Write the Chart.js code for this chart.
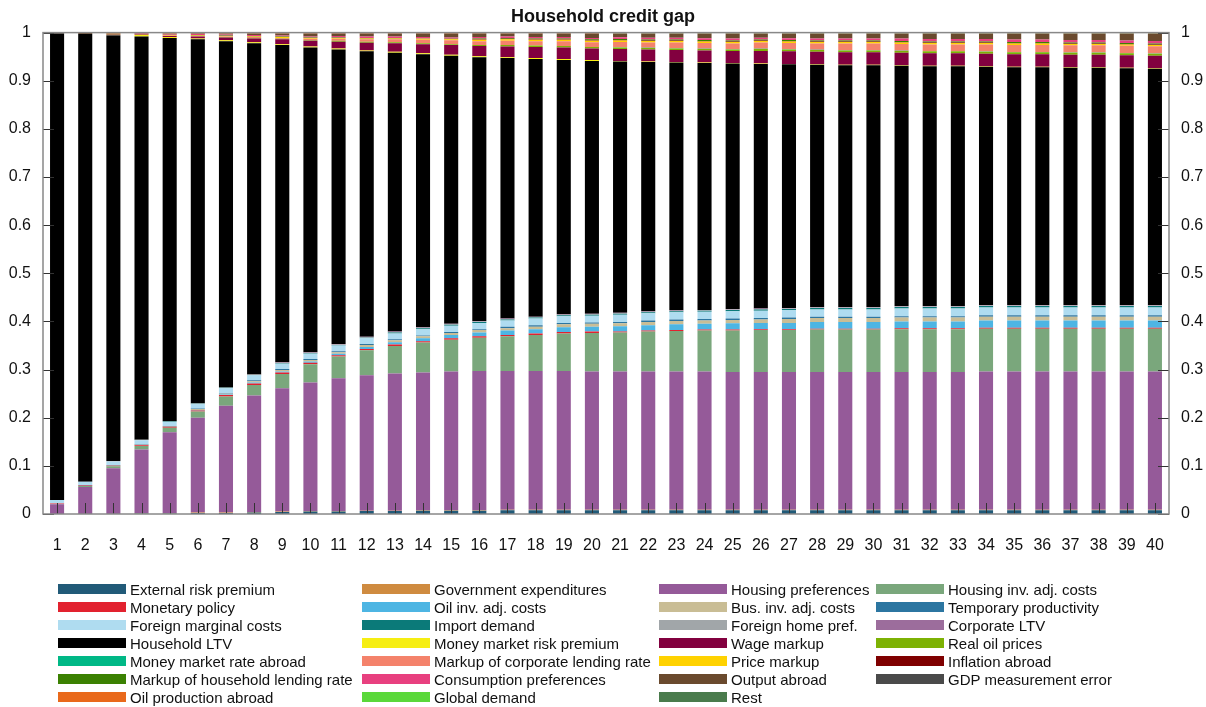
<!DOCTYPE html>
<html>
<head>
<meta charset="utf-8">
<script src="https://cdn.jsdelivr.net/npm/chart.js@4/dist/chart.umd.min.js"></script>
<style>
  html, body { margin: 0; padding: 0; background: #fff; }
  #wrap { position: relative; width: 1206px; height: 707px; }
  #legend { position: absolute; left: 0; top: 0; width: 1206px; height: 707px; pointer-events: none;
            font-family: "Liberation Sans", Arial, sans-serif; font-size: 15px; color: #111; }
  .item { position: absolute; display: flex; align-items: center; height: 18px; white-space: nowrap; }
  .sw { width: 68px; height: 10px; margin-right: 4px; }
</style>
</head>
<body>
<div id="wrap">
  <canvas id="chart" width="1206" height="707"></canvas>
  <div id="legend"></div>
</div>
<script>
const categories = ['1','2','3','4','5','6','7','8','9','10','11','12','13','14','15','16','17','18','19','20',
  '21','22','23','24','25','26','27','28','29','30','31','32','33','34','35','36','37','38','39','40'];

// shares of the decomposition, one array per shock, bottom of the stack first
const externalRisk = [0, 0, 0, 0.001, 0.001, 0.002, 0.002, 0.003, 0.004, 0.005,
  0.005, 0.006, 0.006, 0.007, 0.007, 0.007, 0.008, 0.008, 0.008, 0.008,
  0.008, 0.008, 0.008, 0.008, 0.008, 0.008, 0.008, 0.008, 0.008, 0.008,
  0.008, 0.008, 0.008, 0.008, 0.008, 0.008, 0.008, 0.008, 0.008, 0.008];
const govExp = [0, 0, 0, 0.001, 0.001, 0.001, 0.001, 0.001, 0.001, 0.001,
  0.001, 0.001, 0.001, 0.001, 0.001, 0.001, 0.001, 0.001, 0.001, 0.001,
  0.001, 0.001, 0.001, 0.001, 0.001, 0.001, 0.001, 0.001, 0.001, 0.001,
  0.001, 0.001, 0.001, 0.001, 0.001, 0.001, 0.001, 0.001, 0.001, 0.001];
const housingPref = [0.020, 0.056, 0.095, 0.132, 0.168, 0.197, 0.222, 0.242, 0.256, 0.267,
  0.276, 0.281, 0.285, 0.286, 0.288, 0.289, 0.288, 0.288, 0.288, 0.287,
  0.287, 0.287, 0.287, 0.287, 0.286, 0.286, 0.286, 0.286, 0.286, 0.286,
  0.286, 0.286, 0.286, 0.287, 0.287, 0.287, 0.287, 0.287, 0.287, 0.287];
const housingInv = [0.001, 0.002, 0.004, 0.007, 0.009, 0.013, 0.019, 0.022, 0.030, 0.038,
  0.045, 0.052, 0.057, 0.062, 0.066, 0.069, 0.072, 0.075, 0.078, 0.080,
  0.081, 0.083, 0.084, 0.085, 0.086, 0.087, 0.087, 0.088, 0.088, 0.088,
  0.089, 0.089, 0.089, 0.089, 0.089, 0.089, 0.089, 0.089, 0.089, 0.089];
const monetaryPolicy = [0.001, 0.001, 0.001, 0.002, 0.002, 0.002, 0.003, 0.003, 0.003, 0.003,
  0.003, 0.003, 0.003, 0.003, 0.003, 0.003, 0.003, 0.003, 0.003, 0.003,
  0.002, 0.002, 0.002, 0.002, 0.002, 0.002, 0.002, 0.002, 0.002, 0.002,
  0.002, 0.002, 0.002, 0.002, 0.002, 0.002, 0.002, 0.002, 0.002, 0.002];
const oilInv = [0, 0, 0, 0, 0, 0.001, 0.001, 0.002, 0.002, 0.003,
  0.003, 0.004, 0.005, 0.006, 0.007, 0.008, 0.009, 0.009, 0.010, 0.010,
  0.011, 0.011, 0.012, 0.012, 0.013, 0.013, 0.013, 0.014, 0.014, 0.014,
  0.014, 0.014, 0.014, 0.015, 0.015, 0.015, 0.015, 0.015, 0.015, 0.015];
const busInv = [0, 0, 0.001, 0.001, 0.001, 0.002, 0.002, 0.003, 0.003, 0.003,
  0.003, 0.004, 0.004, 0.004, 0.004, 0.005, 0.005, 0.005, 0.006, 0.006,
  0.006, 0.007, 0.007, 0.007, 0.007, 0.007, 0.008, 0.008, 0.008, 0.008,
  0.008, 0.008, 0.008, 0.008, 0.008, 0.008, 0.008, 0.008, 0.008, 0.008];
const tempProd = [0, 0.001, 0.001, 0.001, 0.001, 0.001, 0.001, 0.002, 0.002, 0.002,
  0.002, 0.002, 0.002, 0.002, 0.002, 0.002, 0.003, 0.003, 0.003, 0.003,
  0.003, 0.003, 0.003, 0.003, 0.003, 0.003, 0.003, 0.003, 0.003, 0.003,
  0.003, 0.003, 0.003, 0.003, 0.003, 0.003, 0.003, 0.003, 0.003, 0.003];
const foreignMc = [0.007, 0.007, 0.007, 0.008, 0.008, 0.009, 0.010, 0.010, 0.011, 0.011,
  0.012, 0.012, 0.012, 0.013, 0.013, 0.013, 0.013, 0.014, 0.014, 0.014,
  0.015, 0.015, 0.015, 0.015, 0.015, 0.015, 0.015, 0.015, 0.015, 0.015,
  0.016, 0.016, 0.016, 0.016, 0.016, 0.016, 0.016, 0.016, 0.016, 0.016];
const importDemand = [0, 0, 0, 0, 0.001, 0.001, 0.001, 0.001, 0.001, 0.001,
  0.001, 0.001, 0.002, 0.002, 0.002, 0.002, 0.002, 0.002, 0.002, 0.002,
  0.002, 0.002, 0.002, 0.002, 0.003, 0.003, 0.003, 0.003, 0.003, 0.003,
  0.003, 0.003, 0.003, 0.003, 0.003, 0.003, 0.003, 0.003, 0.003, 0.003];
const foreignHome = [0, 0, 0.001, 0.001, 0.001, 0.001, 0.001, 0.001, 0.001, 0.001,
  0.001, 0.001, 0.001, 0.001, 0.001, 0.001, 0.001, 0.001, 0.001, 0.001,
  0.001, 0.001, 0.001, 0.001, 0.001, 0.001, 0.001, 0.001, 0.001, 0.001,
  0.001, 0.001, 0.001, 0.001, 0.001, 0.001, 0.001, 0.001, 0.001, 0.001];
const corpLtv = [0, 0, 0, 0, 0, 0, 0, 0, 0.001, 0.001,
  0.001, 0.001, 0.001, 0.001, 0.001, 0.001, 0.001, 0.001, 0.001, 0.001,
  0.001, 0.001, 0.001, 0.001, 0.001, 0.001, 0.001, 0.001, 0.001, 0.001,
  0.001, 0.001, 0.001, 0.001, 0.001, 0.001, 0.001, 0.001, 0.001, 0.001];
const householdLtv = [0.969, 0.930, 0.884, 0.838, 0.796, 0.756, 0.719, 0.688, 0.659, 0.633,
  0.612, 0.593, 0.579, 0.567, 0.557, 0.548, 0.541, 0.535, 0.528, 0.525,
  0.522, 0.518, 0.515, 0.513, 0.510, 0.508, 0.506, 0.503, 0.502, 0.502,
  0.499, 0.498, 0.498, 0.495, 0.494, 0.494, 0.493, 0.493, 0.492, 0.491];
const mmRiskPrem = [0, 0, 0, 0.003, 0.002, 0.002, 0.002, 0.002, 0.002, 0.002,
  0.002, 0.002, 0.002, 0.002, 0.002, 0.002, 0.002, 0.002, 0.002, 0.002,
  0.001, 0.001, 0.001, 0.001, 0.001, 0.001, 0.001, 0.001, 0.001, 0.001,
  0.001, 0.001, 0.001, 0.001, 0.001, 0.001, 0.001, 0.001, 0.001, 0.001];
const wageMarkup = [0, 0, 0, 0.001, 0.002, 0.004, 0.006, 0.008, 0.010, 0.012,
  0.014, 0.016, 0.018, 0.019, 0.020, 0.021, 0.022, 0.023, 0.024, 0.024,
  0.025, 0.025, 0.025, 0.025, 0.025, 0.026, 0.026, 0.026, 0.026, 0.026,
  0.026, 0.026, 0.026, 0.026, 0.026, 0.026, 0.026, 0.026, 0.026, 0.026];
const realOil = [0, 0, 0, 0, 0, 0, 0.001, 0.001, 0.001, 0.001,
  0.002, 0.002, 0.002, 0.002, 0.002, 0.002, 0.003, 0.003, 0.003, 0.003,
  0.003, 0.003, 0.003, 0.003, 0.003, 0.004, 0.004, 0.004, 0.004, 0.004,
  0.004, 0.004, 0.004, 0.004, 0.004, 0.004, 0.004, 0.004, 0.004, 0.004];
const mmRateAbroad = [0, 0, 0, 0, 0, 0, 0, 0, 0, 0,
  0, 0, 0, 0, 0, 0, 0, 0, 0, 0,
  0.0005, 0.0005, 0.0005, 0.0005, 0.0005, 0.0005, 0.0005, 0.0005, 0.0005, 0.0005,
  0.0005, 0.0005, 0.0005, 0.0005, 0.0005, 0.0005, 0.0005, 0.0005, 0.0005, 0.0005];
const corpMarkup = [0, 0, 0, 0, 0, 0.001, 0.001, 0.002, 0.002, 0.003,
  0.004, 0.005, 0.006, 0.007, 0.008, 0.008, 0.009, 0.009, 0.010, 0.010,
  0.011, 0.011, 0.012, 0.012, 0.012, 0.013, 0.013, 0.013, 0.014, 0.014,
  0.014, 0.014, 0.014, 0.015, 0.015, 0.015, 0.015, 0.015, 0.015, 0.015];
const priceMarkup = [0, 0, 0, 0.001, 0.001, 0.001, 0.001, 0.001, 0.002, 0.002,
  0.002, 0.002, 0.002, 0.002, 0.002, 0.003, 0.003, 0.003, 0.003, 0.003,
  0.003, 0.003, 0.003, 0.003, 0.003, 0.003, 0.003, 0.003, 0.003, 0.003,
  0.003, 0.003, 0.003, 0.003, 0.003, 0.003, 0.003, 0.003, 0.003, 0.003];
const inflAbroad = [0, 0, 0, 0, 0, 0, 0, 0, 0, 0,
  0, 0, 0, 0, 0, 0.001, 0.001, 0.001, 0.001, 0.001,
  0.001, 0.001, 0.001, 0.001, 0.001, 0.001, 0.001, 0.001, 0.001, 0.001,
  0.001, 0.001, 0.001, 0.001, 0.001, 0.001, 0.001, 0.001, 0.001, 0.001];
const hhMarkup = [0, 0, 0, 0, 0, 0.001, 0.001, 0.001, 0.001, 0.001,
  0.001, 0.001, 0.001, 0.001, 0.001, 0.002, 0.002, 0.002, 0.002, 0.002,
  0.002, 0.002, 0.002, 0.002, 0.002, 0.002, 0.002, 0.002, 0.002, 0.002,
  0.002, 0.002, 0.002, 0.002, 0.002, 0.002, 0.002, 0.002, 0.002, 0.002];
const consPref = [0, 0, 0, 0.001, 0.002, 0.002, 0.002, 0.002, 0.002, 0.002,
  0.003, 0.003, 0.003, 0.003, 0.003, 0.003, 0.003, 0.003, 0.003, 0.003,
  0.004, 0.004, 0.004, 0.004, 0.004, 0.004, 0.004, 0.004, 0.004, 0.004,
  0.005, 0.005, 0.005, 0.005, 0.005, 0.005, 0.005, 0.005, 0.005, 0.005];
const outputAbroad = [0.001, 0.003, 0.002, 0.001, 0.001, 0.001, 0.002, 0.003, 0.004, 0.006,
  0.005, 0.006, 0.006, 0.007, 0.008, 0.007, 0.006, 0.007, 0.007, 0.009,
  0.007, 0.008, 0.008, 0.009, 0.010, 0.008, 0.009, 0.010, 0.010, 0.010,
  0.010, 0.011, 0.011, 0.011, 0.012, 0.012, 0.013, 0.013, 0.014, 0.015];
const gdpError = [0, 0, 0, 0, 0, 0, 0, 0, 0, 0,
  0, 0, 0, 0, 0, 0, 0, 0, 0, 0,
  0.0005, 0.0005, 0.0005, 0.0005, 0.0005, 0.0005, 0.0005, 0.0005, 0.0005, 0.0005,
  0.0005, 0.0005, 0.0005, 0.0005, 0.0005, 0.0005, 0.0005, 0.0005, 0.0005, 0.0005];
const oilProdAbroad = [0, 0, 0.002, 0.001, 0.001, 0.001, 0.001, 0.001, 0.001, 0.001,
  0.001, 0.001, 0.001, 0.001, 0.001, 0.001, 0.001, 0.001, 0.001, 0.001,
  0.0005, 0.0005, 0.0005, 0.0005, 0.0005, 0.0005, 0.0005, 0.0005, 0.0005, 0.0005,
  0.0005, 0.0005, 0.0005, 0.0005, 0.0005, 0.0005, 0.0005, 0.0005, 0.0005, 0.0005];
const globalDemand = [0, 0, 0, 0, 0, 0, 0, 0, 0, 0,
  0, 0, 0, 0, 0, 0, 0, 0, 0, 0,
  0.0005, 0.0005, 0.0005, 0.0005, 0.0005, 0.0005, 0.0005, 0.0005, 0.0005, 0.0005,
  0.0005, 0.0005, 0.0005, 0.0005, 0.0005, 0.0005, 0.0005, 0.0005, 0.0005, 0.0005];
const rest = [0.001, 0, 0.002, 0, 0.002, 0.001, 0.001, 0.001, 0.001, 0.001,
  0.001, 0.001, 0.001, 0.001, 0.001, 0.001, 0.001, 0.001, 0.001, 0.001,
  0.001, 0.001, 0.001, 0.001, 0.001, 0.001, 0.001, 0.001, 0.001, 0.001,
  0.001, 0.001, 0.001, 0.001, 0.001, 0.001, 0.001, 0.001, 0.001, 0.001];

const seriesNames = ['External risk premium', 'Government expenditures', 'Housing preferences', 'Housing inv. adj. costs',
  'Monetary policy', 'Oil inv. adj. costs', 'Bus. inv. adj. costs', 'Temporary productivity',
  'Foreign marginal costs', 'Import demand', 'Foreign home pref.', 'Corporate LTV',
  'Household LTV', 'Money market risk premium', 'Wage markup', 'Real oil prices',
  'Money market rate abroad', 'Markup of corporate lending rate', 'Price markup', 'Inflation abroad',
  'Markup of household lending rate', 'Consumption preferences', 'Output abroad', 'GDP measurement error',
  'Oil production abroad', 'Global demand', 'Rest'];
const seriesValues = [externalRisk, govExp, housingPref, housingInv,
  monetaryPolicy, oilInv, busInv, tempProd,
  foreignMc, importDemand, foreignHome, corpLtv,
  householdLtv, mmRiskPrem, wageMarkup, realOil,
  mmRateAbroad, corpMarkup, priceMarkup, inflAbroad,
  hhMarkup, consPref, outputAbroad, gdpError,
  oilProdAbroad, globalDemand, rest];
const seriesColors = ['#215a78', '#cf8b40', '#955a99', '#7aa77c',
  '#e2222f', '#4db5e3', '#c9bd95', '#2c76a1',
  '#afdcf0', '#0b7a79', '#a1a6a9', '#9c6d9c',
  '#000000', '#f6ee12', '#82003f', '#7db204',
  '#00b886', '#f4826b', '#ffd200', '#7f0000',
  '#3b8102', '#e8407f', '#6a4a2e', '#4a4a4a',
  '#e9691b', '#5ad83a', '#4a7b4c'];

const yTickValues = [0, 0.1, 0.2, 0.3, 0.4, 0.5, 0.6, 0.7, 0.8, 0.9, 1];

// inward ticks drawn over the bars, plus the grey frame
const frameTicks = {
  id: 'frameTicks',
  afterDatasetsDraw(chart) {
    const { ctx, chartArea: a, scales } = chart;
    ctx.save();
    ctx.strokeStyle = '#333';
    ctx.lineWidth = 1;
    ctx.beginPath();
    yTickValues.forEach(v => {
      const y = Math.round(scales.y.getPixelForValue(v)) + 0.5;
      ctx.moveTo(a.left, y); ctx.lineTo(a.left + 11, y);
      ctx.moveTo(a.right, y); ctx.lineTo(a.right - 11, y);
    });
    categories.forEach((c, i) => {
      const x = Math.round(scales.x.getPixelForValue(i)) + 0.5;
      ctx.moveTo(x, a.bottom); ctx.lineTo(x, a.bottom - 11);
    });
    ctx.stroke();
    ctx.strokeStyle = '#888';
    ctx.lineWidth = 1.5;
    ctx.strokeRect(a.left, a.top, a.width, a.height);
    ctx.restore();
  }
};

const tickFont = { family: '"Liberation Sans", Arial, sans-serif', size: 16 };

const ctx = document.getElementById('chart').getContext('2d');
const chart = new Chart(ctx, {
  type: 'bar',
  data: {
    labels: categories,
    datasets: seriesNames.map((name, i) => ({
      label: name,
      data: seriesValues[i],
      backgroundColor: seriesColors[i],
      borderWidth: 0,
      barPercentage: 0.5,
      categoryPercentage: 1.0,
      yAxisID: 'y'
    }))
  },
  options: {
    responsive: false,
    animation: false,
    layout: { padding: 0 },
    plugins: {
      legend: { display: false },
      tooltip: { enabled: false },
      title: {
        display: true,
        text: 'Household credit gap',
        color: '#111',
        font: { family: '"Liberation Sans", Arial, sans-serif', size: 18, weight: 'bold' },
        padding: { top: 6, bottom: 5 }
      }
    },
    scales: {
      x: {
        stacked: true,
        grid: { display: false, drawTicks: false },
        border: { display: false },
        ticks: { color: '#111', font: tickFont, padding: 22, maxRotation: 0, autoSkip: false },
        afterFit: s => { s.height = 193; }
      },
      y: {
        stacked: true,
        position: 'left',
        min: 0, max: 1,
        grid: { display: false, drawTicks: false },
        border: { display: false },
        ticks: { stepSize: 0.1, color: '#111', font: tickFont, padding: 12,
                 callback: v => String(+v.toFixed(1)) },
        afterFit: s => { s.width = 43; }
      },
      y2: {
        position: 'right',
        min: 0, max: 1,
        grid: { display: false, drawTicks: false },
        border: { display: false },
        ticks: { stepSize: 0.1, color: '#111', font: tickFont, padding: 12,
                 callback: v => String(+v.toFixed(1)) },
        afterFit: s => { s.width = 37; }
      }
    }
  },
  plugins: [frameTicks]
});

// legend in four columns below the plot
const legendCols = [58, 362, 659, 876];
const legendBox = document.getElementById('legend');
seriesNames.forEach((name, i) => {
  const item = document.createElement('div');
  item.className = 'item';
  item.style.left = legendCols[i % 4] + 'px';
  item.style.top = (580 + 18 * Math.floor(i / 4)) + 'px';
  const sw = document.createElement('div');
  sw.className = 'sw';
  sw.style.background = seriesColors[i];
  const txt = document.createElement('span');
  txt.textContent = name;
  item.appendChild(sw);
  item.appendChild(txt);
  legendBox.appendChild(item);
});
</script>
</body>
</html>
